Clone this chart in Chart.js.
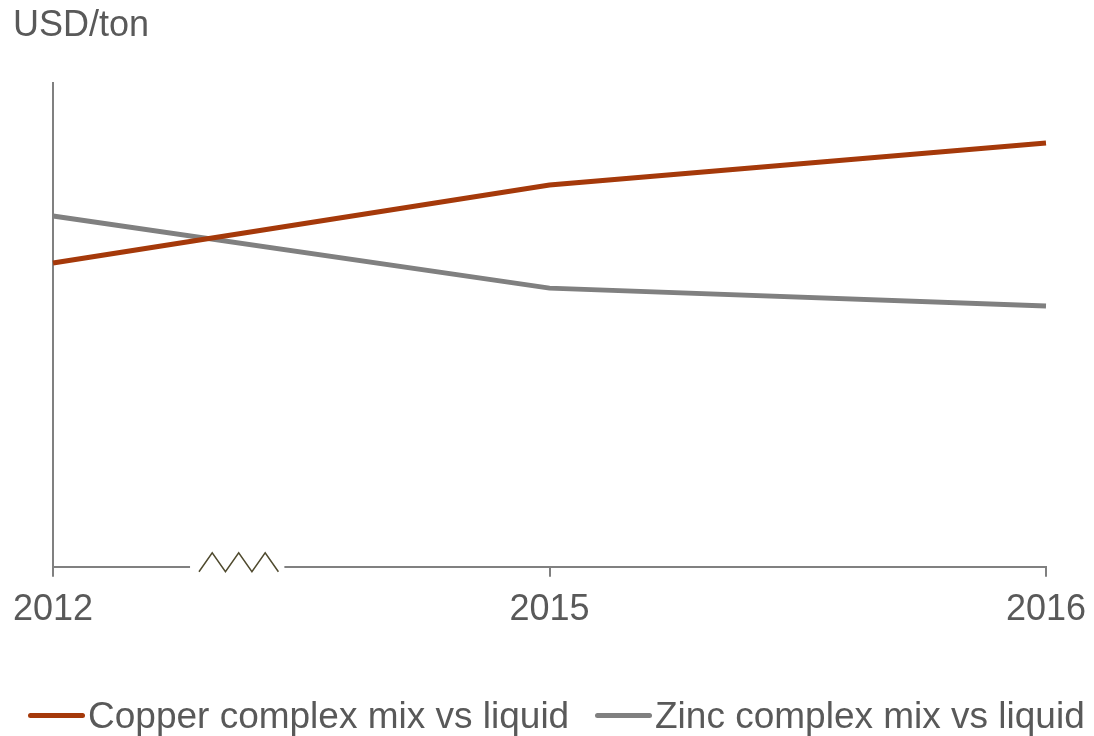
<!DOCTYPE html>
<html lang="en">

<head>
    <meta charset="UTF-8">
    <title>USD/ton</title>
    <script src="https://cdn.jsdelivr.net/npm/chart.js"></script>
    <style>
        body {
            margin: 0;
            background: #ffffff;
            font-family: 'Liberation Sans', Arial, sans-serif;
            color: #595959;
        }

        .wrap {
            position: relative;
            width: 1094px;
            height: 736px;
        }

        .unit {
            position: absolute;
            left: 13px;
            top: 6px;
            font-size: 36px;
            line-height: 36px;
        }

        /* Legend */
        .legend-item {
            position: absolute;
            top: 697px;
            display: flex;
            align-items: center;
            font-size: 37px;
            line-height: 37px;
            white-space: nowrap;
        }

        .legend-item .swatch {
            width: 57px;
            height: 5px;
            border-radius: 3px;
            margin-right: 3px;
        }
    </style>
</head>

<body>
    <div class="wrap">
        <canvas id="chart"></canvas>
        <div class="unit">USD/ton</div>
        <div id="legend"></div>
    </div>

    <script>
        const years = ['2012', '2015', '2016'];
        const copper = [62.8, 78.9, 87.6];
        const zinc = [72.5, 57.6, 53.9];

        const seriesNames = ['Copper complex mix vs liquid', 'Zinc complex mix vs liquid'];
        const seriesColors = ['#A5390A', '#808080'];
        const legendLeft = [28, 595];

        const axisColor = '#808080';
        const textColor = '#595959';

        // white gap + zigzag on the x axis (axis break between 2012 and 2015)
        const axisBreak = {
            id: 'axisBreak',
            afterDraw(chart) {
                const xs = chart.scales.x;
                const ctx = chart.ctx;
                const x0 = xs.getPixelForValue(0);
                const x1 = xs.getPixelForValue(1);
                const span = x1 - x0;
                const y = xs.top;

                ctx.save();
                ctx.fillStyle = '#ffffff';
                ctx.fillRect(x0 + span * 0.276, y - 4, span * 0.19, 8);

                const zStart = x0 + span * 0.294;
                const zEnd = x0 + span * 0.454;
                const step = (zEnd - zStart) / 6;
                ctx.beginPath();
                for (let i = 0; i <= 6; i++) {
                    const px = zStart + step * i;
                    const py = i % 2 === 0 ? y + 5 : y - 14;
                    if (i === 0) ctx.moveTo(px, py);
                    else ctx.lineTo(px, py);
                }
                ctx.strokeStyle = '#4F4A2E';
                ctx.lineWidth = 1.5;
                ctx.stroke();
                ctx.restore();
            }
        };

        const ctx = document.getElementById('chart').getContext('2d');

        new Chart(ctx, {
            type: 'line',
            data: {
                labels: years,
                datasets: [
                    {
                        label: seriesNames[0],
                        data: copper,
                        borderColor: seriesColors[0],
                        borderWidth: 5,
                        pointRadius: 0,
                        tension: 0
                    },
                    {
                        label: seriesNames[1],
                        data: zinc,
                        borderColor: seriesColors[1],
                        borderWidth: 5,
                        pointRadius: 0,
                        tension: 0
                    }
                ]
            },
            options: {
                responsive: true,
                maintainAspectRatio: false,
                animation: false,
                layout: {
                    padding: { left: 53, right: 48, top: 83, bottom: 92 }
                },
                plugins: {
                    legend: { display: false },
                    tooltip: { enabled: false },
                    title: { display: false }
                },
                scales: {
                    x: {
                        offset: false,
                        afterFit(scale) {
                            // labels fit inside the layout padding already
                            scale.paddingLeft = 0;
                            scale.paddingRight = 0;
                        },
                        grid: {
                            display: true,
                            drawOnChartArea: false,
                            drawTicks: true,
                            tickLength: 10,
                            color: axisColor,
                            lineWidth: 2
                        },
                        border: { display: true, color: axisColor, width: 2 },
                        ticks: {
                            color: textColor,
                            padding: 12,
                            maxRotation: 0,
                            font: { family: "'Liberation Sans', Arial, sans-serif", size: 36 }
                        }
                    },
                    y: {
                        min: 0,
                        max: 100,
                        grid: { display: false, drawTicks: false },
                        border: { display: true, color: axisColor, width: 2 },
                        ticks: { display: false }
                    }
                }
            },
            plugins: [axisBreak]
        });

        // HTML legend
        const legend = document.getElementById('legend');
        seriesNames.forEach((name, i) => {
            const item = document.createElement('div');
            item.className = 'legend-item';
            item.style.left = legendLeft[i] + 'px';
            const sw = document.createElement('span');
            sw.className = 'swatch';
            sw.style.background = seriesColors[i];
            const txt = document.createElement('span');
            txt.textContent = name;
            item.appendChild(sw);
            item.appendChild(txt);
            legend.appendChild(item);
        });
    </script>
</body>

</html>
